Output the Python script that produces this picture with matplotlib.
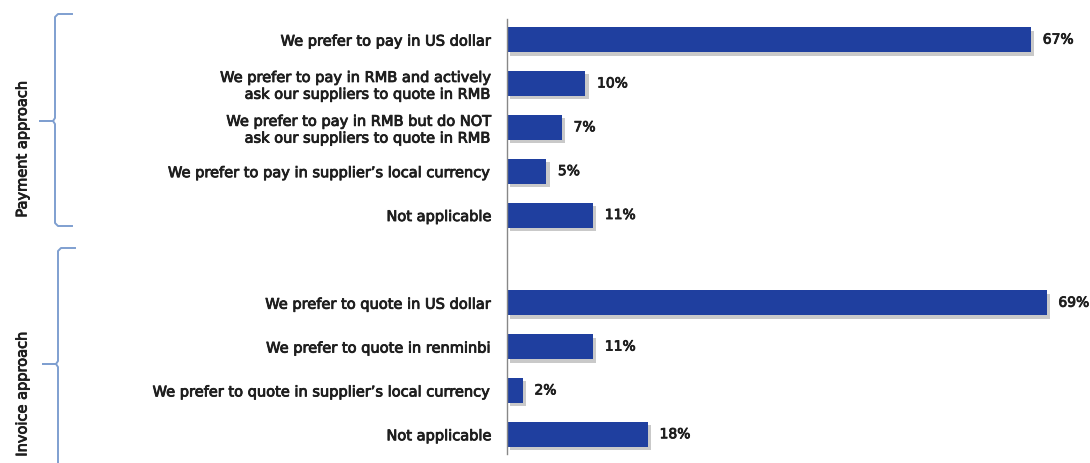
import matplotlib
matplotlib.use('Agg')
import matplotlib.pyplot as plt
import matplotlib.patheffects as pe
from matplotlib.lines import Line2D

plt.rcParams['font.family'] = ['Liberation Sans Narrow', 'DejaVu Sans']

# data
payment_labels = ['We prefer to pay in US dollar',
                  'We prefer to pay in RMB and actively\nask our suppliers to quote in RMB',
                  'We prefer to pay in RMB but do NOT\nask our suppliers to quote in RMB',
                  "We prefer to pay in supplier\u2019s local currency",
                  'Not applicable']
payment_values = [67, 10, 7, 5, 11]
invoice_labels = ['We prefer to quote in US dollar',
                  'We prefer to quote in renminbi',
                  "We prefer to quote in supplier\u2019s local currency",
                  'Not applicable']
invoice_values = [69, 11, 2, 18]
group_names = ['Payment approach', 'Invoice approach']

W, H = 1090, 464
bar_color = '#1f3f9f'
text_color = '#1e1e1e'
brace_color = '#7f9fd0'
heavy = [pe.withStroke(linewidth=0.6, foreground=text_color)]

labels = payment_labels + invoice_labels
values = payment_values + invoice_values
pos = list(range(len(payment_labels))) + \
    [len(payment_labels) + 1 + i for i in range(len(invoice_labels))]

fig = plt.figure(figsize=(W / 100, H / 100), dpi=100)
ax = fig.add_axes([507 / W, 9 / H, 1 - 507 / W, 435 / H])

bars = ax.barh(pos, values, height=0.57, color=bar_color)
for b in bars:
    b.set_path_effects([pe.SimplePatchShadow(offset=(2.5, -2.5), shadow_rgbFace='#888888', alpha=0.45),
                        pe.Normal()])

for p, v in zip(pos, values):
    ax.annotate(f'{v}%', (v, p), xytext=(8.5, 0), textcoords='offset points',
                va='center', ha='left', fontsize=10, color=text_color, path_effects=heavy)

ax.set_xlim(0, 583 / 7.82)
ax.set_ylim(9.45, -0.47)
ax.set_yticks(pos)
ax.set_yticklabels(labels, fontsize=10.5, color=text_color, linespacing=1.15)
for t in ax.get_yticklabels():
    t.set_path_effects(heavy)
ax.tick_params(axis='y', length=0, pad=11)
ax.set_xticks([])
for s in ['top', 'right', 'bottom']:
    ax.spines[s].set_visible(False)
ax.spines['left'].set_color('#888888')
ax.spines['left'].set_linewidth(1.0)


def px(x, y):
    return x / W, 1 - y / H


def brace(x, top, bottom, mid, hook, tip):
    pts = [(x + hook, top), (x + 3, top), (x, top + 3), (x, mid - 3), (x - 2, mid),
           (tip, mid), (x - 2, mid), (x, mid + 3), (x, bottom - 3), (x + 3, bottom),
           (x + hook, bottom)]
    xs, ys = zip(*[px(a, b) for a, b in pts])
    fig.add_artist(Line2D(xs, ys, transform=fig.transFigure, color=brace_color, lw=1.4,
                          solid_joinstyle='round'))


brace(55, 15, 227, 122, 17, 40)
brace(58, 249, 490, 365, 17, 43)

for name, yc in zip(group_names, [150, 395]):
    fig.text(22 / W, 1 - yc / H, name, rotation=90, ha='center', va='center',
             fontsize=10.5, color=text_color, path_effects=heavy)

fig.savefig('out.png', dpi=100, facecolor='white')
